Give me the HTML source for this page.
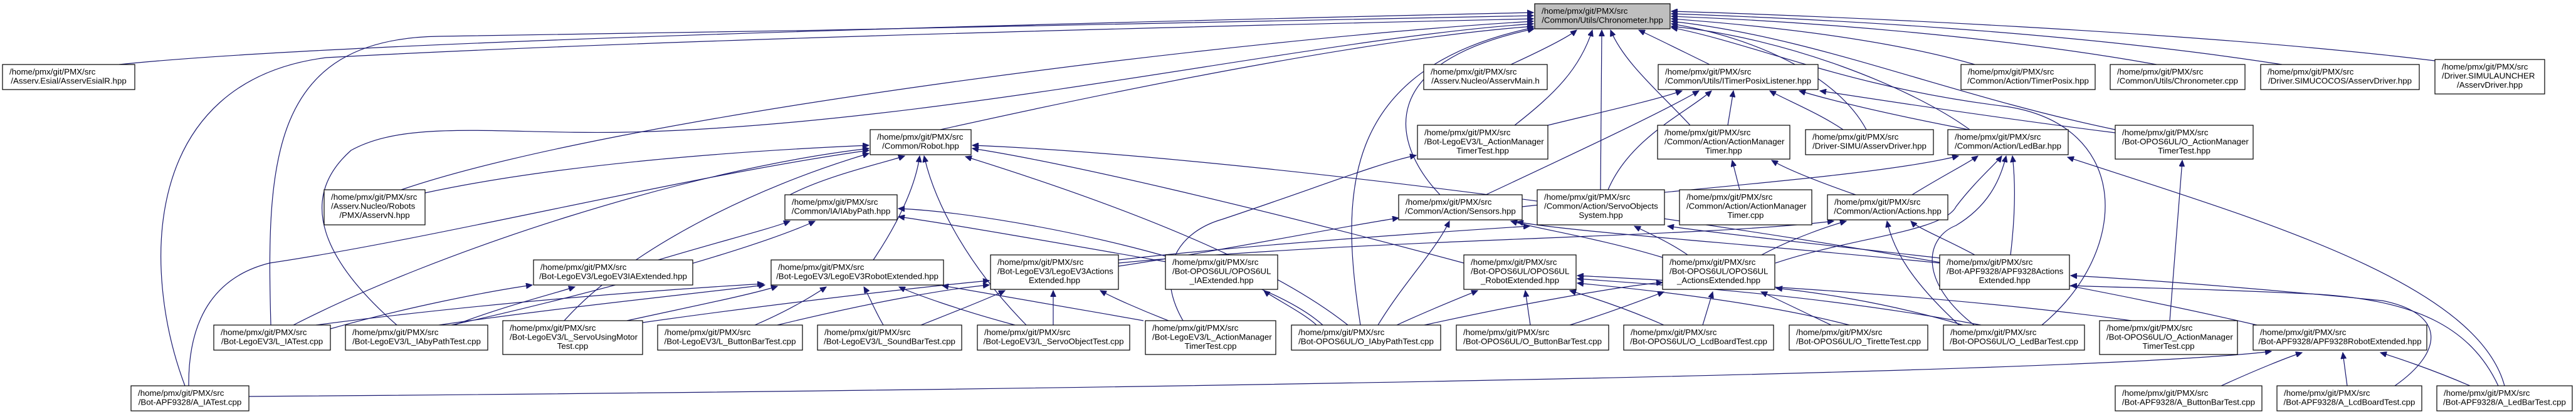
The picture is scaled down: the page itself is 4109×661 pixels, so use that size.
<!DOCTYPE html>
<html><head><meta charset="utf-8"><style>
html,body{margin:0;padding:0;background:#fff;}
svg{display:block;}
text{font-family:"Liberation Sans",Arial,sans-serif;font-size:13.3px;fill:#000;}
.e{fill:none;stroke:#191970;stroke-width:1.2;marker-end:url(#a);}
.n{fill:#fff;stroke:#000;stroke-width:1.2;}
</style></head><body>
<svg width="4109" height="661" viewBox="0 0 4109 661" xmlns="http://www.w3.org/2000/svg">
<defs><marker id="a" markerUnits="userSpaceOnUse" markerWidth="11" markerHeight="9" refX="10" refY="4.5" orient="auto"><path d="M0,0 L10,4.5 L0,9 z" fill="#191970" stroke="#191970"/></marker></defs>
<g>
<path class="e" d="M190,103 C600,60 2100,28 2446,20"/>
<path class="e" d="M295,616 C225,430 225,130 520,92 C1100,60 2100,38 2446,30"/>
<path class="e" d="M432,519 C425,260 430,62 700,58 C1300,52 2100,28 2446,25"/>
<path class="e" d="M633,519 C520,420 470,320 560,240 C650,190 800,215 1000,211 C1500,200 2100,60 2446,38"/>
<path class="e" d="M640,303 C1000,180 2000,60 2446,34"/>
<path class="e" d="M1500,207 C1800,140 2200,60 2446,42"/>
<path class="e" d="M2170,519 C2140,320 2130,110 2446,44"/>
<path class="e" d="M2297,311 C2220,230 2190,100 2447,46"/>
<path class="e" d="M2416,200 C2480,150 2520,110 2540,48"/>
<path class="e" d="M2410,103 C2460,80 2500,60 2515,48"/>
<path class="e" d="M2553,303 L2555,48"/>
<path class="e" d="M2696,200 C2650,150 2590,100 2569,48"/>
<path class="e" d="M2727,103 C2680,80 2640,60 2614,48"/>
<path class="e" d="M3150,103 C3000,60 2800,40 2666,30"/>
<path class="e" d="M3440,103 C3200,60 2900,35 2666,26"/>
<path class="e" d="M3640,103 C3300,50 2900,30 2666,22"/>
<path class="e" d="M3884,97 C3500,50 2900,25 2666,18"/>
<path class="e" d="M2977,207 C2930,120 2800,60 2666,38"/>
<path class="e" d="M3142,207 C3050,140 2850,60 2666,42"/>
<path class="e" d="M3374,207 C3100,150 2900,60 2666,34"/>
<path class="e" d="M3257,519 C3400,400 3400,200 3200,170 C2950,140 2800,70 2666,44"/>
<path class="e" d="M2469,200 C2550,180 2640,160 2683,145"/>
<path class="e" d="M2370,311 C2500,250 2650,180 2710,145"/>
<path class="e" d="M2756,200 L2765,145"/>
<path class="e" d="M2940,207 C2900,180 2850,160 2823,145"/>
<path class="e" d="M3140,207 C3000,180 2920,160 2870,145"/>
<path class="e" d="M3374,212 C3200,190 3000,160 2903,145"/>
<path class="e" d="M2565,303 C2600,220 2690,180 2730,145"/>
<path class="e" d="M2775,303 L2763,256"/>
<path class="e" d="M2960,311 C2900,290 2850,270 2826,256"/>
<path class="e" d="M3050,311 C3100,280 3140,260 3155,249"/>
<path class="e" d="M2832,420 C2950,380 3100,370 3120,330 C3150,290 3185,260 3193,249"/>
<path class="e" d="M3149,519 C3060,450 3070,380 3120,360 C3170,330 3190,290 3200,249"/>
<path class="e" d="M3207,407 C3215,340 3215,290 3210,249"/>
<path class="e" d="M2428,330 C2700,300 3000,280 3124,249"/>
<path class="e" d="M3995,616 C3950,450 3600,350 3298,251"/>
<path class="e" d="M2810,407 C2860,380 2920,360 2945,353"/>
<path class="e" d="M1784,420 C2200,380 2700,380 2925,353"/>
<path class="e" d="M3150,407 C3100,380 3060,365 3048,353"/>
<path class="e" d="M3125,519 C3050,450 3020,400 3010,353"/>
<path class="e" d="M1784,425 C1950,400 2150,360 2231,348"/>
<path class="e" d="M2198,519 C2240,450 2290,400 2312,353"/>
<path class="e" d="M2652,411 C2550,380 2450,365 2410,353"/>
<path class="e" d="M3094,420 C2800,390 2500,370 2420,354"/>
<path class="e" d="M2692,407 C2660,385 2625,370 2607,361"/>
<path class="e" d="M3094,412 C2900,390 2720,370 2660,361"/>
<path class="e" d="M1784,415 C2000,390 2300,370 2440,361"/>
<path class="e" d="M2228,519 C2280,495 2330,475 2357,464"/>
<path class="e" d="M2441,519 L2433,464"/>
<path class="e" d="M2654,519 C2600,495 2540,475 2504,464"/>
<path class="e" d="M2950,519 C2800,480 2600,460 2516,452"/>
<path class="e" d="M3160,519 C2900,470 2650,455 2516,445"/>
<path class="e" d="M3400,512 C3100,470 2700,450 2516,440"/>
<path class="e" d="M2504,519 C2580,495 2630,475 2654,466"/>
<path class="e" d="M2716,519 L2732,466"/>
<path class="e" d="M2921,519 C2870,495 2830,475 2809,466"/>
<path class="e" d="M3131,519 C3000,480 2880,465 2833,460"/>
<path class="e" d="M2272,519 C2450,480 2600,455 2652,451"/>
<path class="e" d="M2100,519 C2080,500 2030,475 2016,464"/>
<path class="e" d="M1860,418 C1700,390 1500,355 1433,346"/>
<path class="e" d="M2110,519 C2000,420 1600,340 1433,333"/>
<path class="e" d="M1050,415 C1150,385 1230,365 1260,353"/>
<path class="e" d="M720,519 C900,480 1200,400 1300,353"/>
<path class="e" d="M1260,311 C1320,280 1410,260 1443,249"/>
<path class="e" d="M1393,415 C1430,360 1460,300 1467,249"/>
<path class="e" d="M1637,519 C1540,420 1490,320 1474,249"/>
<path class="e" d="M2335,420 C2000,330 1700,260 1551,237"/>
<path class="e" d="M3600,519 C3000,380 2000,250 1551,232"/>
<path class="e" d="M2150,519 C2000,400 1700,300 1540,250"/>
<path class="e" d="M301,616 C300,500 350,440 430,420 C700,380 1100,280 1386,240"/>
<path class="e" d="M678,308 C900,260 1200,240 1386,232"/>
<path class="e" d="M468,519 C700,400 1100,270 1386,237"/>
<path class="e" d="M900,512 C1000,400 1200,300 1386,245"/>
<path class="e" d="M504,519 C800,480 1100,460 1218,453"/>
<path class="e" d="M700,519 C900,490 1100,470 1220,455"/>
<path class="e" d="M1000,512 C1100,490 1200,470 1240,457"/>
<path class="e" d="M1204,519 C1260,495 1300,470 1318,458"/>
<path class="e" d="M1409,519 C1395,495 1385,470 1378,458"/>
<path class="e" d="M1619,519 C1530,495 1460,470 1434,458"/>
<path class="e" d="M1824,512 C1700,490 1560,465 1503,456"/>
<path class="e" d="M1469,519 C1530,495 1580,475 1603,464"/>
<path class="e" d="M1680,519 L1680,464"/>
<path class="e" d="M1864,512 C1820,495 1775,475 1755,464"/>
<path class="e" d="M1240,519 C1400,480 1520,460 1578,455"/>
<path class="e" d="M1025,515 C1200,490 1450,460 1578,448"/>
<path class="e" d="M527,525 C650,490 780,465 849,455"/>
<path class="e" d="M725,519 C800,490 880,470 917,458"/>
<path class="e" d="M397,633 C1500,625 3300,600 3623,561"/>
<path class="e" d="M3543,616 C3600,590 3650,570 3672,563"/>
<path class="e" d="M3744,616 L3737,563"/>
<path class="e" d="M3940,616 C3880,590 3820,570 3797,563"/>
<path class="e" d="M3820,616 C3900,560 3900,500 3800,480 C3600,460 3400,445 3303,440"/>
<path class="e" d="M3985,616 C3940,520 3850,480 3700,470 C3500,460 3400,460 3303,456"/>
<path class="e" d="M3461,512 L3481,256"/>
<path class="e" d="M1887,512 C1840,430 1880,370 1950,350 C2100,300 2200,260 2259,248"/>
</g>
<g>
<rect class="n" x="2448" y="6" width="216" height="40" style="fill:#bfbfbf"/>
<text x="2459" y="22">/home/pmx/git/PMX/src</text><text x="2556" y="36.5" text-anchor="middle">/Common/Utils/Chronometer.hpp</text>

<rect class="n" x="4" y="103" width="211" height="40"/><text x="15" y="119">/home/pmx/git/PMX/src</text><text x="109.5" y="133.5" text-anchor="middle">/Asserv.Esial/AsservEsialR.hpp</text>
<rect class="n" x="2271" y="103" width="197" height="40"/><text x="2282" y="119">/home/pmx/git/PMX/src</text><text x="2369.5" y="133.5" text-anchor="middle">/Asserv.Nucleo/AsservMain.h</text>
<rect class="n" x="2645" y="103" width="255" height="40"/><text x="2656" y="119">/home/pmx/git/PMX/src</text><text x="2772.5" y="133.5" text-anchor="middle">/Common/Utils/ITimerPosixListener.hpp</text>
<rect class="n" x="3128" y="103" width="214" height="40"/><text x="3139" y="119">/home/pmx/git/PMX/src</text><text x="3235" y="133.5" text-anchor="middle">/Common/Action/TimerPosix.hpp</text>
<rect class="n" x="3366" y="103" width="215" height="40"/><text x="3377" y="119">/home/pmx/git/PMX/src</text><text x="3473.5" y="133.5" text-anchor="middle">/Common/Utils/Chronometer.cpp</text>
<rect class="n" x="3606" y="103" width="253" height="40"/><text x="3617" y="119">/home/pmx/git/PMX/src</text><text x="3732.5" y="133.5" text-anchor="middle">/Driver.SIMUCOCOS/AsservDriver.hpp</text>
<rect class="n" x="3884" y="95" width="175" height="55"/><text x="3895" y="111">/home/pmx/git/PMX/src</text><text x="3895" y="125.5">/Driver.SIMULAUNCHER</text><text x="3971.5" y="140" text-anchor="middle">/AsservDriver.hpp</text>

<rect class="n" x="1388" y="207" width="161" height="40"/><text x="1399" y="223">/home/pmx/git/PMX/src</text><text x="1468.5" y="237.5" text-anchor="middle">/Common/Robot.hpp</text>
<rect class="n" x="2261" y="200" width="208" height="54"/><text x="2272" y="216">/home/pmx/git/PMX/src</text><text x="2272" y="230.5">/Bot-LegoEV3/L_ActionManager</text><text x="2365" y="245" text-anchor="middle">TimerTest.hpp</text>
<rect class="n" x="2644" y="200" width="211" height="54"/><text x="2655" y="216">/home/pmx/git/PMX/src</text><text x="2655" y="230.5">/Common/Action/ActionManager</text><text x="2749.5" y="245" text-anchor="middle">Timer.hpp</text>
<rect class="n" x="2880" y="207" width="204" height="40"/><text x="2891" y="223">/home/pmx/git/PMX/src</text><text x="2982" y="237.5" text-anchor="middle">/Driver-SIMU/AsservDriver.hpp</text>
<rect class="n" x="3107" y="207" width="192" height="40"/><text x="3118" y="223">/home/pmx/git/PMX/src</text><text x="3203" y="237.5" text-anchor="middle">/Common/Action/LedBar.hpp</text>
<rect class="n" x="3374" y="200" width="220" height="54"/><text x="3385" y="216">/home/pmx/git/PMX/src</text><text x="3385" y="230.5">/Bot-OPOS6UL/O_ActionManager</text><text x="3484" y="245" text-anchor="middle">TimerTest.hpp</text>

<rect class="n" x="517" y="303" width="161" height="56"/><text x="528" y="319">/home/pmx/git/PMX/src</text><text x="528" y="333.5">/Asserv.Nucleo/Robots</text><text x="597.5" y="348" text-anchor="middle">/PMX/AsservN.hpp</text>
<rect class="n" x="1252" y="311" width="179" height="40"/><text x="1263" y="327">/home/pmx/git/PMX/src</text><text x="1341.5" y="341.5" text-anchor="middle">/Common/IA/IAbyPath.hpp</text>
<rect class="n" x="2231" y="311" width="197" height="40"/><text x="2242" y="327">/home/pmx/git/PMX/src</text><text x="2329.5" y="341.5" text-anchor="middle">/Common/Action/Sensors.hpp</text>
<rect class="n" x="2452" y="303" width="203" height="56"/><text x="2463" y="319">/home/pmx/git/PMX/src</text><text x="2463" y="333.5">/Common/Action/ServoObjects</text><text x="2553.5" y="348" text-anchor="middle">System.hpp</text>
<rect class="n" x="2679" y="303" width="211" height="56"/><text x="2690" y="319">/home/pmx/git/PMX/src</text><text x="2690" y="333.5">/Common/Action/ActionManager</text><text x="2784.5" y="348" text-anchor="middle">Timer.cpp</text>
<rect class="n" x="2915" y="311" width="192" height="40"/><text x="2926" y="327">/home/pmx/git/PMX/src</text><text x="3011" y="341.5" text-anchor="middle">/Common/Action/Actions.hpp</text>

<rect class="n" x="851" y="415" width="254" height="40"/><text x="862" y="431">/home/pmx/git/PMX/src</text><text x="978" y="445.5" text-anchor="middle">/Bot-LegoEV3/LegoEV3IAExtended.hpp</text>
<rect class="n" x="1230" y="415" width="275" height="40"/><text x="1241" y="431">/home/pmx/git/PMX/src</text><text x="1367.5" y="445.5" text-anchor="middle">/Bot-LegoEV3/LegoEV3RobotExtended.hpp</text>
<rect class="n" x="1580" y="407" width="204" height="55"/><text x="1591" y="423">/home/pmx/git/PMX/src</text><text x="1591" y="437.5">/Bot-LegoEV3/LegoEV3Actions</text><text x="1682" y="452" text-anchor="middle">Extended.hpp</text>
<rect class="n" x="1859" y="407" width="179" height="55"/><text x="1870" y="423">/home/pmx/git/PMX/src</text><text x="1870" y="437.5">/Bot-OPOS6UL/OPOS6UL</text><text x="1948.5" y="452" text-anchor="middle">_IAExtended.hpp</text>
<rect class="n" x="2335" y="407" width="179" height="55"/><text x="2346" y="423">/home/pmx/git/PMX/src</text><text x="2346" y="437.5">/Bot-OPOS6UL/OPOS6UL</text><text x="2424.5" y="452" text-anchor="middle">_RobotExtended.hpp</text>
<rect class="n" x="2652" y="407" width="179" height="55"/><text x="2663" y="423">/home/pmx/git/PMX/src</text><text x="2663" y="437.5">/Bot-OPOS6UL/OPOS6UL</text><text x="2741.5" y="452" text-anchor="middle">_ActionsExtended.hpp</text>
<rect class="n" x="3094" y="407" width="207" height="55"/><text x="3105" y="423">/home/pmx/git/PMX/src</text><text x="3105" y="437.5">/Bot-APF9328/APF9328Actions</text><text x="3197.5" y="452" text-anchor="middle">Extended.hpp</text>

<rect class="n" x="341" y="519" width="186" height="40"/><text x="352" y="535">/home/pmx/git/PMX/src</text><text x="434" y="549.5" text-anchor="middle">/Bot-LegoEV3/L_IATest.cpp</text>
<rect class="n" x="551" y="519" width="227" height="40"/><text x="562" y="535">/home/pmx/git/PMX/src</text><text x="664.5" y="549.5" text-anchor="middle">/Bot-LegoEV3/L_IAbyPathTest.cpp</text>
<rect class="n" x="802" y="512" width="223" height="54"/><text x="813" y="528">/home/pmx/git/PMX/src</text><text x="813" y="542.5">/Bot-LegoEV3/L_ServoUsingMotor</text><text x="913.5" y="557" text-anchor="middle">Test.cpp</text>
<rect class="n" x="1049" y="519" width="231" height="40"/><text x="1060" y="535">/home/pmx/git/PMX/src</text><text x="1164.5" y="549.5" text-anchor="middle">/Bot-LegoEV3/L_ButtonBarTest.cpp</text>
<rect class="n" x="1304" y="519" width="230" height="40"/><text x="1315" y="535">/home/pmx/git/PMX/src</text><text x="1419" y="549.5" text-anchor="middle">/Bot-LegoEV3/L_SoundBarTest.cpp</text>
<rect class="n" x="1559" y="519" width="243" height="40"/><text x="1570" y="535">/home/pmx/git/PMX/src</text><text x="1680.5" y="549.5" text-anchor="middle">/Bot-LegoEV3/L_ServoObjectTest.cpp</text>
<rect class="n" x="1827" y="512" width="208" height="54"/><text x="1838" y="528">/home/pmx/git/PMX/src</text><text x="1838" y="542.5">/Bot-LegoEV3/L_ActionManager</text><text x="1931" y="557" text-anchor="middle">TimerTest.cpp</text>
<rect class="n" x="2060" y="519" width="238" height="40"/><text x="2071" y="535">/home/pmx/git/PMX/src</text><text x="2179" y="549.5" text-anchor="middle">/Bot-OPOS6UL/O_IAbyPathTest.cpp</text>
<rect class="n" x="2323" y="519" width="243" height="40"/><text x="2334" y="535">/home/pmx/git/PMX/src</text><text x="2444.5" y="549.5" text-anchor="middle">/Bot-OPOS6UL/O_ButtonBarTest.cpp</text>
<rect class="n" x="2590" y="519" width="239" height="40"/><text x="2601" y="535">/home/pmx/git/PMX/src</text><text x="2709.5" y="549.5" text-anchor="middle">/Bot-OPOS6UL/O_LcdBoardTest.cpp</text>
<rect class="n" x="2854" y="519" width="221" height="40"/><text x="2865" y="535">/home/pmx/git/PMX/src</text><text x="2964.5" y="549.5" text-anchor="middle">/Bot-OPOS6UL/O_TiretteTest.cpp</text>
<rect class="n" x="3100" y="519" width="225" height="40"/><text x="3111" y="535">/home/pmx/git/PMX/src</text><text x="3212.5" y="549.5" text-anchor="middle">/Bot-OPOS6UL/O_LedBarTest.cpp</text>
<rect class="n" x="3349" y="512" width="220" height="54"/><text x="3360" y="528">/home/pmx/git/PMX/src</text><text x="3360" y="542.5">/Bot-OPOS6UL/O_ActionManager</text><text x="3459" y="557" text-anchor="middle">TimerTest.cpp</text>
<rect class="n" x="3594" y="519" width="277" height="40"/><text x="3605" y="535">/home/pmx/git/PMX/src</text><text x="3732.5" y="549.5" text-anchor="middle">/Bot-APF9328/APF9328RobotExtended.hpp</text>

<rect class="n" x="209" y="616" width="188" height="40"/><text x="220" y="632">/home/pmx/git/PMX/src</text><text x="303" y="646.5" text-anchor="middle">/Bot-APF9328/A_IATest.cpp</text>
<rect class="n" x="3374" y="616" width="234" height="40"/><text x="3385" y="632">/home/pmx/git/PMX/src</text><text x="3491" y="646.5" text-anchor="middle">/Bot-APF9328/A_ButtonBarTest.cpp</text>
<rect class="n" x="3632" y="616" width="231" height="40"/><text x="3643" y="632">/home/pmx/git/PMX/src</text><text x="3747.5" y="646.5" text-anchor="middle">/Bot-APF9328/A_LcdBoardTest.cpp</text>
<rect class="n" x="3887" y="616" width="216" height="40"/><text x="3898" y="632">/home/pmx/git/PMX/src</text><text x="3995" y="646.5" text-anchor="middle">/Bot-APF9328/A_LedBarTest.cpp</text>
</g>
</svg>
</body></html>
